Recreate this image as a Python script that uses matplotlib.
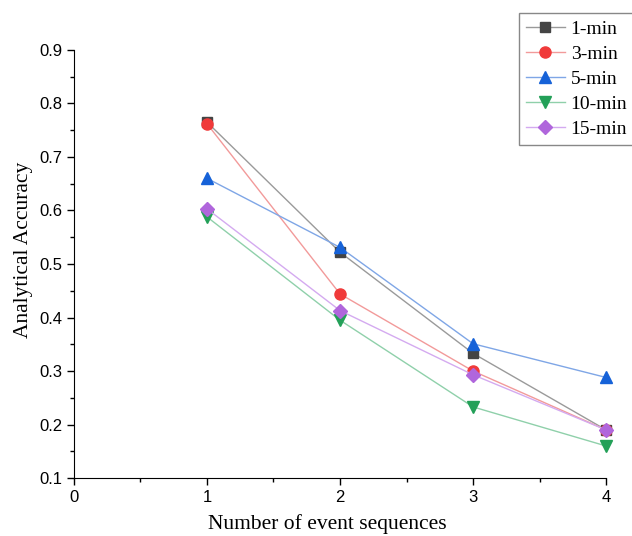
import matplotlib
matplotlib.use('Agg')
import matplotlib.pyplot as plt
from matplotlib.ticker import MultipleLocator, FormatStrFormatter

# Data
sequences = [1, 2, 3, 4]
labels = ['1-min', '3-min', '5-min', '10-min', '15-min']
acc_1min = [0.765, 0.522, 0.333, 0.190]
acc_3min = [0.762, 0.444, 0.300, 0.190]
acc_5min = [0.660, 0.531, 0.351, 0.288]
acc_10min = [0.588, 0.395, 0.233, 0.160]
acc_15min = [0.603, 0.413, 0.293, 0.190]

series = [acc_1min, acc_3min, acc_5min, acc_10min, acc_15min]
markers = ['s', 'o', '^', 'v', 'D']
marker_colors = ['#444444', '#f03a3a', '#1662d8', '#23a058', '#b066dc']
line_colors = ['#9a9a9a', '#f29a9a', '#7fa6e6', '#8fd0aa', '#d4aaf0']
marker_sizes = [7, 8, 8, 8, 7]

fig = plt.figure(figsize=(6.32, 5.36), dpi=100)
ax = fig.add_axes([0.117, 0.108, 0.842, 0.799])

for ys, lab, m, mc, lc, ms in zip(series, labels, markers, marker_colors, line_colors, marker_sizes):
    ax.plot(sequences, ys, color=lc, lw=1.0, marker=m, markersize=ms,
            markerfacecolor=mc, markeredgecolor=mc, label=lab, clip_on=False)

ax.set_xlim(0, 4)
ax.set_ylim(0.1, 0.9)
ax.xaxis.set_major_locator(MultipleLocator(1))
ax.xaxis.set_minor_locator(MultipleLocator(0.5))
ax.xaxis.set_major_formatter(FormatStrFormatter('%d'))
ax.yaxis.set_major_locator(MultipleLocator(0.1))
ax.yaxis.set_minor_locator(MultipleLocator(0.05))
ax.yaxis.set_major_formatter(FormatStrFormatter('%.1f'))
ax.spines['top'].set_visible(False)
ax.spines['right'].set_visible(False)
ax.tick_params(which='major', direction='out', length=5, width=1, labelsize=12)
ax.tick_params(which='minor', direction='out', length=3, width=1)
for t in ax.get_xticklabels() + ax.get_yticklabels():
    t.set_fontfamily('Liberation Sans')

ax.set_xlabel('Number of event sequences', fontfamily='Liberation Serif', fontsize=15.5)
ax.set_ylabel('Analytical Accuracy', fontfamily='Liberation Serif', fontsize=15.5)
ax.xaxis.set_label_coords(0.476, -0.084)
ax.yaxis.set_label_coords(-0.077, 0.533)

fig.legend(loc='upper left', bbox_to_anchor=(0.806, 0.993),
           prop={'family': 'Liberation Serif', 'size': 14},
           fancybox=False, edgecolor='#888888', framealpha=1,
           handlelength=2.0, handletextpad=0.3, labelspacing=0.38, borderpad=0.35)

plt.savefig('out.png', dpi=100)
